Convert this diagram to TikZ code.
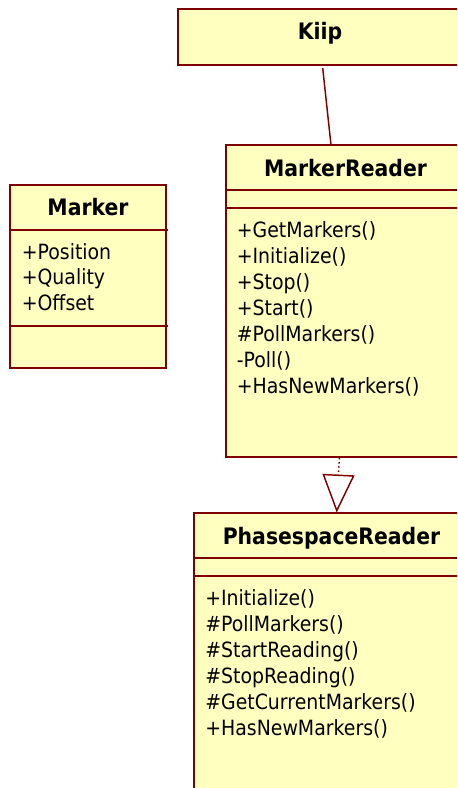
\documentclass[tikz,border=0pt]{standalone}
\usepackage{fontspec}
\setmainfont[FakeStretch=0.9]{DejaVu Sans}
\usetikzlibrary{arrows.meta,fit}
\definecolor{umlborder}{RGB}{128,0,0}
\definecolor{umlfill}{RGB}{255,255,192}
\tikzset{
  classbox/.style={draw=umlborder, fill=umlfill, line width=1.2pt, inner sep=0pt},
  sepline/.style={draw=umlborder, line width=1.2pt},
  title/.style={font=\bfseries\fontsize{17}{20}\selectfont, inner sep=0pt, anchor=base},
  member/.style={font=\fontsize{15.75}{19.5}\selectfont, inner sep=0pt, anchor=base west},
  assoc/.style={draw=umlborder, line width=1.1pt},
  realize/.style={draw=umlborder, line width=1.1pt, dotted,
    -{Triangle[open, length=28.5pt, width=24pt, line width=1.1pt]}}
}
\begin{document}
\begin{tikzpicture}[x=0.75pt, y=-0.75pt]
\useasboundingbox (0,0) rectangle (457,788);
\clip (0,0) rectangle (457,788);
\fill[white] (0,0) rectangle (457,788);

% Kiip
\node[classbox, fit={(178,9) (462,65)}] (kiip) {};
\node[title] (kiipt) at (320,39.5) {Kiip};

% Marker
\node[classbox, fit={(10,185) (166,368)}] (marker) {};
\draw[sepline] (10,230) -- (168,230);
\draw[sepline] (10,326) -- (168,326);
\node[title] (markert) at (88,215) {Marker};
\foreach \t [count=\i from 0] in {+Position,+Quality,+Offset}
  \node[member] (mk-\i) at (21.5,259+25.5*\i) {\t};

% MarkerReader
\node[classbox, fit={(226,145) (465,457)}] (mreader) {};
\draw[sepline] (226,190) -- (465,190);
\draw[sepline] (226,208) -- (465,208);
\node[title] (mreadert) at (345.5,176) {MarkerReader};
\foreach \t [count=\i from 0] in {+GetMarkers(),+Initialize(),+Stop(),+Start(),\#PollMarkers(),-Poll(),+HasNewMarkers()}
  \node[member] (mr-\i) at (236.5,237+26*\i) {\t};

% PhasespaceReader
\node[classbox, fit={(194,513) (469,800)}] (preader) {};
\draw[sepline] (194,558) -- (469,558);
\draw[sepline] (194,576) -- (469,576);
\node[title] (preadert) at (331.5,544) {PhasespaceReader};
\foreach \t [count=\i from 0] in {+Initialize(),\#PollMarkers(),\#StartReading(),\#StopReading(),\#GetCurrentMarkers(),+HasNewMarkers()}
  \node[member] (pr-\i) at (205,605+26*\i) {\t};

% connectors
\coordinate (kiipend) at (322.7,68);
\coordinate (mrtop) at (331,145);
\draw[assoc] (kiipend) -- (mrtop);

\coordinate (mrbot) at (339.3,458);
\coordinate (prtop) at (336.7,512.5);
\draw[realize] (mrbot) -- (prtop);
\end{tikzpicture}
\end{document}
